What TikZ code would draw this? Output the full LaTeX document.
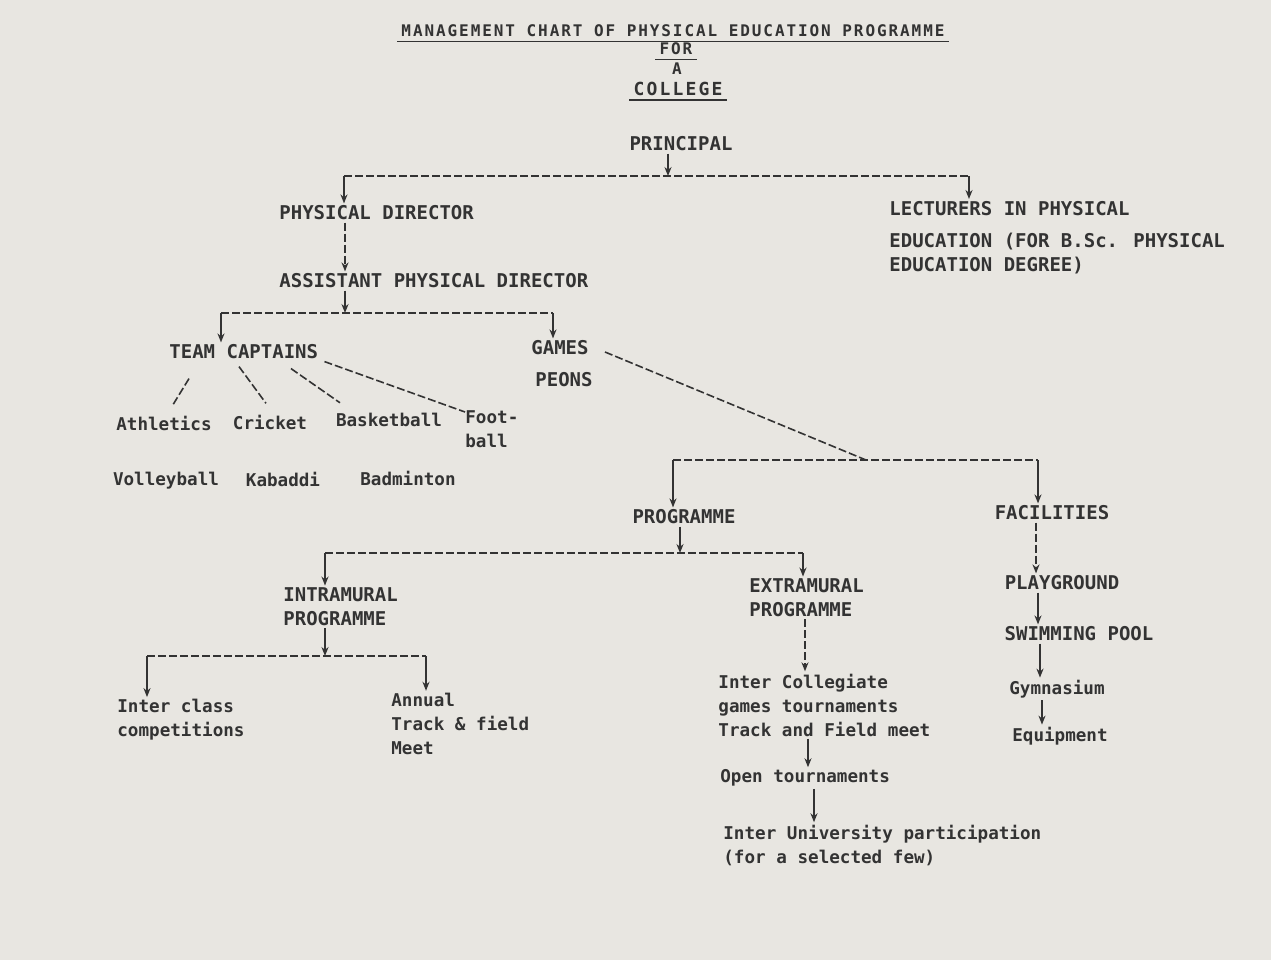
\documentclass[tikz,border=0pt]{standalone}
\usepackage{fontspec}
\setmainfont{DejaVu Sans Mono}
\newfontfamily\headfont{DejaVu Sans Mono}[LetterSpace=12]
\usetikzlibrary{arrows.meta}
\definecolor{paper}{HTML}{E8E6E1}
\definecolor{ink}{HTML}{333333}
\tikzset{
  caps/.style={font=\bfseries\fontsize{9.5}{12}\selectfont, text=ink, inner sep=1pt},
  plain/.style={font=\bfseries\fontsize{8.8}{12}\selectfont, text=ink, inner sep=1pt, align=left},
  head/.style={font=\headfont\bfseries\fontsize{8}{10}\selectfont, text=ink, inner sep=2pt},
  dashline/.style={draw=ink, line width=0.8pt, dash pattern=on 4pt off 1.5pt},
  arr/.style={draw=ink, line width=0.8pt, -{Stealth[length=4.5pt,width=3.5pt]}},
}
\begin{document}
\begin{tikzpicture}[x=0.5pt,y=-0.5pt]
\fill[paper] (0,0) rectangle (1271,960);
\useasboundingbox (0,0) rectangle (1271,960);

% Heading
\node[head] (title) at (673,31) {MANAGEMENT CHART OF PHYSICAL EDUCATION PROGRAMME};
\node[head] (for) at (676,49) {FOR};
\node[head] (a) at (677,69) {A};
\node[head, font=\headfont\bfseries\fontsize{9}{10}\selectfont] (college) at (678,89) {COLLEGE};
\draw[ink, line width=0.9pt] (title.south west) -- (title.south east);
\draw[ink, line width=0.9pt] (for.south west) -- (for.south east);
\draw[ink, line width=0.9pt] (college.south west) -- (college.south east);

% Staff
\node[caps] (principal) at (681,144) {PRINCIPAL};
\node[caps, anchor=west] (physdir) at (277,213) {PHYSICAL DIRECTOR};
\node[caps, anchor=west] (apd) at (277,281) {ASSISTANT PHYSICAL DIRECTOR};
\node[caps, anchor=north west, align=left] (lect) at (887,199)
  {LECTURERS IN PHYSICAL\\[4pt]EDUCATION (FOR B.Sc. PHYSICAL\\EDUCATION DEGREE)};
\node[caps, anchor=west] (captains) at (167,352) {TEAM CAPTAINS};
\node[caps] (games) at (560,348) {GAMES};
\node[caps] (peons) at (564,380) {PEONS};

% Games of the team captains
\node[plain] (athletics) at (164,423) {Athletics};
\node[plain] (cricket) at (270,422) {Cricket};
\node[plain] (basketball) at (389,420) {Basketball};
\node[plain, anchor=north west] (football) at (463,408) {Foot-\\ball};
\node[plain] (volleyball) at (166,481) {Volleyball};
\node[plain] (kabaddi) at (283,479) {Kabaddi};
\node[plain] (badminton) at (408,478) {Badminton};

% Programme and facilities
\node[caps] (programme) at (684,517) {PROGRAMME};
\node[caps] (facilities) at (1052,513) {FACILITIES};
\node[caps, anchor=west, align=left] (intra) at (281,607) {INTRAMURAL\\PROGRAMME};
\node[caps, anchor=west, align=left] (extra) at (747,598) {EXTRAMURAL\\PROGRAMME};
\node[caps] (playground) at (1062,583) {PLAYGROUND};
\node[caps] (swimming) at (1079,634) {SWIMMING POOL};
\node[plain] (gym) at (1057,689) {Gymnasium};
\node[plain] (equip) at (1060,736) {Equipment};
\node[plain, anchor=west] (interclass) at (115,720) {Inter class\\competitions};
\node[plain, anchor=west] (annual) at (389,724) {Annual\\Track \& field\\Meet};
\node[plain, anchor=west] (intercoll) at (716,705)
  {Inter Collegiate\\games tournaments\\Track and Field meet};
\node[plain, anchor=west] (open) at (718,778) {Open tournaments};
\node[plain, anchor=west] (interuni) at (721,845)
  {Inter University participation\\(for a selected few)};

% Junctions of the connectors
\coordinate (b1) at (668,176);
\coordinate (b1L) at (344,176);
\coordinate (b1R) at (969,176);
\coordinate (b2) at (345,313);
\coordinate (b2L) at (221,313);
\coordinate (b2R) at (553,313);
\coordinate (b4) at (866,460);
\coordinate (b4L) at (673,460);
\coordinate (b4R) at (1038,460);
\coordinate (b5) at (680,553);
\coordinate (b5L) at (325,553);
\coordinate (b5R) at (803,553);
\coordinate (b6) at (325,656);
\coordinate (b6L) at (147,656);
\coordinate (b6R) at (426,656);
\coordinate (xe1) at (805,0);
\coordinate (xe2) at (808,0);
\coordinate (xe3) at (814,0);
\coordinate (xf1) at (1036,0);
\coordinate (xf2) at (1038,0);
\coordinate (xf3) at (1040,0);
\coordinate (xf4) at (1042,0);

% Principal down to staff
\draw[arr] (principal.south -| b1) -- (b1);
\draw[dashline] (b1L) -- (b1R);
\draw[arr] (b1L) -- (b1L |- physdir.north);
\draw[arr] (b1R) -- (b1R |- lect.north);
\draw[dashline, arr] (physdir.south -| b2) -- (apd.north -| b2);
\draw[arr] (apd.south -| b2) -- (b2);
\draw[dashline] (b2L) -- (b2R);
\draw[arr] (b2L) -- (b2L |- captains.north);
\draw[arr] (b2R) -- (b2R |- games.north);

% Team captains to games
\draw[dashline] ([shift={(22,17)}]captains.south west) -- ([shift={(8,-7)}]athletics.north);
\draw[dashline] ([shift={(72,5)}]captains.south west) -- ([shift={(-4,-9)}]cricket.north);
\draw[dashline] ([shift={(124,7)}]captains.south west) -- ([shift={(-49,-8)}]basketball.north);
\draw[dashline] ([shift={(4,0)}]captains.south east) -- ([shift={(2,4)}]football.north west);

% Games peons down to programme and facilities
\draw[dashline] ([shift={(14,4)}]games.east) -- (b4);
\draw[dashline] (b4L) -- (b4R);
\draw[arr] (b4L) -- (b4L |- programme.north);
\draw[arr] (b4R) -- (b4R |- facilities.north);

% Programme
\draw[arr] (programme.south -| b5) -- (b5);
\draw[dashline] (b5L) -- (b5R);
\draw[arr] (b5L) -- (b5L |- intra.north);
\draw[arr] (b5R) -- (b5R |- extra.north);
\draw[arr] (intra.south -| b6) -- (b6);
\draw[dashline] (b6L) -- (b6R);
\draw[arr] (b6L) -- (b6L |- interclass.north);
\draw[arr] (b6R) -- (b6R |- annual.north);
\draw[dashline, arr] (extra.south -| xe1) -- (intercoll.north -| xe1);
\draw[arr] (intercoll.south -| xe2) -- (open.north -| xe2);
\draw[arr] (open.south -| xe3) -- (interuni.north -| xe3);

% Facilities
\draw[dashline, arr] (facilities.south -| xf1) -- (playground.north -| xf1);
\draw[arr] (playground.south -| xf2) -- (swimming.north -| xf2);
\draw[arr] (swimming.south -| xf3) -- (gym.north -| xf3);
\draw[arr] (gym.south -| xf4) -- (equip.north -| xf4);
\end{tikzpicture}
\end{document}
